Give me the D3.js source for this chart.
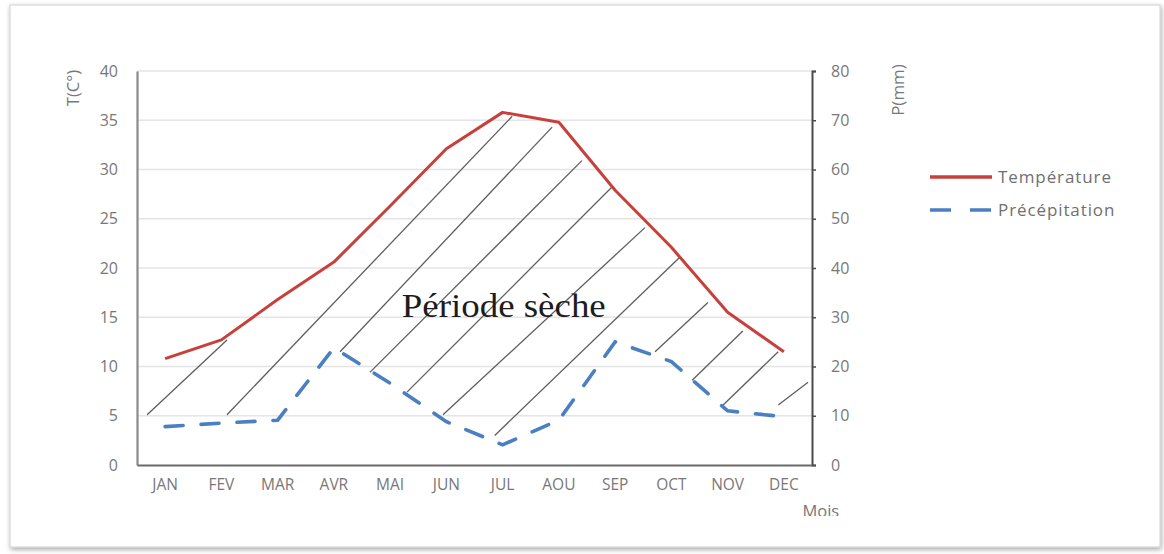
<!DOCTYPE html>
<html>
<head>
<meta charset="utf-8">
<script src="https://cdn.jsdelivr.net/npm/d3@7"></script>
<style>
  html, body { margin: 0; padding: 0; background: #ffffff; }
  svg { display: block; }
</style>
</head>
<body>
<svg id="chart" width="1164" height="554"></svg>
<script>
// Monthly climate data (ombrothermic diagram)
const months = ["JAN", "FEV", "MAR", "AVR", "MAI", "JUN", "JUL", "AOU", "SEP", "OCT", "NOV", "DEC"];
const temperature = [10.8, 12.7, 16.8, 20.6, 26.3, 32.1, 35.8, 34.8, 27.9, 22.1, 15.5, 11.5];   // °C
const precipitation = [7.8, 8.5, 9.1, 23.8, 16.6, 8.8, 4.1, 9.1, 25.0, 21.0, 11.0, 9.8];      // mm
const tempTicks = [0, 5, 10, 15, 20, 25, 30, 35, 40];
const precipTicks = [0, 10, 20, 30, 40, 50, 60, 70, 80];

// Dry-period hatching: segments as [month position, °C]
const hatchFrom = [[-0.32, 5.1], [1.10, 5.1], [3.11, 11.5], [3.64, 9.4], [4.30, 7.4], [4.94, 5.1],
                   [5.86, 3.0], [8.71, 11.5], [9.37, 8.6], [9.92, 6.1], [10.90, 6.1]];
const hatchTo = [[1.10, 12.7], [6.17, 35.4], [6.88, 34.3], [7.41, 30.9], [7.94, 28.2], [8.53, 24.1],
                 [9.15, 21.1], [9.65, 16.5], [10.27, 13.6], [10.90, 11.5], [11.43, 8.4]];

const svg = d3.select("#chart");
const plot = { left: 137, right: 812, top: 71, bottom: 465 };

// Card frame with soft shadow
const defs = svg.append("defs");
const shadow = defs.append("filter").attr("id", "shadow")
  .attr("x", "-5%").attr("y", "-5%").attr("width", "110%").attr("height", "112%");
shadow.append("feDropShadow").attr("dx", 1).attr("dy", 2).attr("stdDeviation", 2.5)
  .attr("flood-color", "#000").attr("flood-opacity", 0.35);
defs.append("clipPath").attr("id", "card")
  .append("rect").attr("x", 10).attr("y", 5).attr("width", 1150).attr("height", 511);

svg.append("rect").attr("x", 10).attr("y", 5).attr("width", 1150).attr("height", 542)
  .attr("fill", "#ffffff").attr("stroke", "#cfcfcf").attr("stroke-width", 1)
  .attr("filter", "url(#shadow)");

// Scales
const xBand = d3.scaleBand().domain(months).range([plot.left, plot.right]);
const xPos = d3.scaleLinear().domain([-0.5, months.length - 0.5]).range([plot.left, plot.right]);
const yT = d3.scaleLinear().domain([0, 40]).range([plot.bottom, plot.top]);
const yP = d3.scaleLinear().domain([0, 80]).range([plot.bottom, plot.top]);

const axisFont = "'Open Sans', 'Liberation Sans', sans-serif";
const labelColor = "#787878";

// Horizontal gridlines
svg.append("g").selectAll("line").data(tempTicks.filter(d => d > 0)).join("line")
  .attr("x1", plot.left).attr("x2", plot.right)
  .attr("y1", d => yT(d)).attr("y2", d => yT(d))
  .attr("stroke", "#e4e4e4").attr("stroke-width", 1.5);

// Left axis (temperature)
const gLeft = svg.append("g").attr("transform", `translate(${plot.left},0)`)
  .call(d3.axisLeft(yT).tickValues(tempTicks).tickSize(0).tickPadding(19));
gLeft.select(".domain").attr("stroke", "#8a8a8a").attr("stroke-width", 2.2);
gLeft.selectAll("text").attr("font-family", axisFont).attr("font-size", 16)
  .attr("fill", labelColor);

// Right axis (precipitation)
const gRight = svg.append("g").attr("transform", `translate(${plot.right},0)`)
  .call(d3.axisRight(yP).tickValues(precipTicks).tickSizeInner(4).tickSizeOuter(4).tickPadding(15));
gRight.select(".domain").attr("stroke", "#4a4a4a").attr("stroke-width", 2);
gRight.selectAll(".tick line").attr("stroke", "#4a4a4a").attr("stroke-width", 1.5);
gRight.selectAll("text").attr("font-family", axisFont).attr("font-size", 16)
  .attr("fill", labelColor);

// Bottom axis (months)
const gBottom = svg.append("g").attr("transform", `translate(0,${plot.bottom})`)
  .call(d3.axisBottom(xBand).tickSize(0).tickPadding(14));
gBottom.select(".domain").attr("stroke", "#6a6a6a").attr("stroke-width", 2.2);
gBottom.selectAll("text").attr("font-family", axisFont).attr("font-size", 15.5)
  .attr("fill", labelColor);

// Axis titles
svg.append("text").attr("transform", `translate(79,88) rotate(-90)`)
  .attr("text-anchor", "middle").attr("font-family", axisFont).attr("font-size", 16.5)
  .attr("fill", labelColor).text("T(C°)");
svg.append("text").attr("transform", `translate(904,90) rotate(-90)`)
  .attr("text-anchor", "middle").attr("font-family", axisFont).attr("font-size", 17)
  .attr("fill", labelColor).text("P(mm)");
svg.append("text").attr("clip-path", "url(#card)")
  .attr("x", xBand("DEC") + xBand.bandwidth() * 0.83).attr("y", 517)
  .attr("font-family", axisFont).attr("font-size", 16.5).attr("fill", labelColor).text("Mois");

// Hatching for the dry period
svg.append("g").selectAll("line").data(hatchFrom).join("line")
  .attr("x1", d => xPos(d[0])).attr("y1", d => yT(d[1]))
  .attr("x2", (d, i) => xPos(hatchTo[i][0])).attr("y2", (d, i) => yT(hatchTo[i][1]))
  .attr("stroke", "#5e5e5e").attr("stroke-width", 1.3);

// Precipitation curve
const precipLine = d3.line().x((d, i) => xPos(i)).y(d => yP(d));
svg.append("path").datum(precipitation).attr("d", precipLine)
  .attr("fill", "none").attr("stroke", "#4a7fc1").attr("stroke-width", 3.6)
  .attr("stroke-dasharray", "18,18").attr("stroke-linecap", "round");

// Temperature curve
const tempLine = d3.line().x((d, i) => xPos(i)).y(d => yT(d));
svg.append("path").datum(temperature).attr("d", tempLine)
  .attr("fill", "none").attr("stroke", "#c8403b").attr("stroke-width", 3)
  .attr("stroke-linejoin", "round");

// Annotation
svg.append("text").attr("x", xPos(6.02)).attr("y", yT(15))
  .attr("text-anchor", "middle").attr("font-family", "'Liberation Serif', 'Times New Roman', serif")
  .attr("font-size", 34).attr("textLength", 204).attr("lengthAdjust", "spacingAndGlyphs")
  .attr("fill", "#1c1c1c").text("Période sèche");

// Legend
const legend = svg.append("g");
const legendItems = [
  { name: "Température", color: "#c8403b", dash: null },
  { name: "Précépitation", color: "#4a7fc1", dash: "21,19" }
];
legendItems.forEach((item, i) => {
  const y = 177 + i * 33;
  legend.append("line").attr("x1", 930).attr("x2", 992).attr("y1", y).attr("y2", y)
    .attr("stroke", item.color).attr("stroke-width", 3.4)
    .attr("stroke-dasharray", item.dash);
  legend.append("text").attr("x", 998).attr("y", y + 6)
    .attr("font-family", axisFont).attr("font-size", 17).attr("letter-spacing", 0.9)
    .attr("fill", "#6f6f6f").text(item.name);
});
</script>
</body>
</html>
